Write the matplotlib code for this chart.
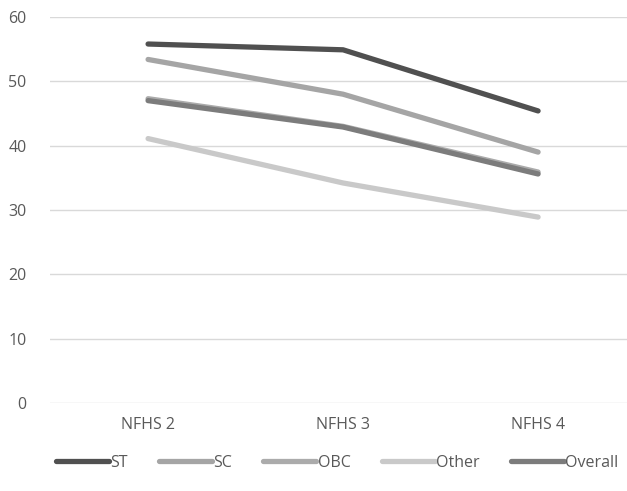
import numpy as np
import matplotlib.pyplot as plt

surveys = ['NFHS 2', 'NFHS 3', 'NFHS 4']
st = [55.8, 54.9, 45.4]
sc = [53.4, 48.0, 39.0]
obc = [47.3, 43.0, 35.9]
other = [41.1, 34.2, 28.9]
overall = [47.0, 42.9, 35.6]

series = [
    ('ST', st, '#505050'),
    ('SC', sc, '#A5A5A5'),
    ('OBC', obc, '#ABABAB'),
    ('Other', other, '#C9C9C9'),
    ('Overall', overall, '#7C7C7C'),
]

plt.rcParams['font.family'] = ['Open Sans', 'DejaVu Sans']

fig = plt.figure(figsize=(6.27, 4.91), dpi=100)
ax = fig.add_axes([50 / 627, 88 / 491, 1 - 50 / 627, 386 / 491])

x = np.arange(len(surveys))
for name, vals, col in series:
    ax.plot(x, vals, color=col, linewidth=3.8, solid_capstyle='round',
            solid_joinstyle='round', label=name)

ax.set_xlim(-0.503, 2.456)
ax.set_ylim(0, 60)
ax.set_yticks(np.arange(0, 61, 10))
ax.set_xticks(x)
ax.set_xticklabels(surveys)
ax.grid(axis='y', color='#D9D9D9', linewidth=1)
ax.set_axisbelow(True)
for s in ax.spines.values():
    s.set_visible(False)
ax.tick_params(length=0, labelsize=11.5, colors='#595959')
ax.tick_params(axis='y', pad=17)
ax.tick_params(axis='x', pad=10)

leg = fig.legend(loc='center', bbox_to_anchor=(0.538, 0.058), ncol=5,
                 frameon=False, fontsize=11.5, handlelength=3.3,
                 handletextpad=0.1, columnspacing=1.95)
for t in leg.get_texts():
    t.set_color('#595959')

fig.savefig('out.png', dpi=100)
